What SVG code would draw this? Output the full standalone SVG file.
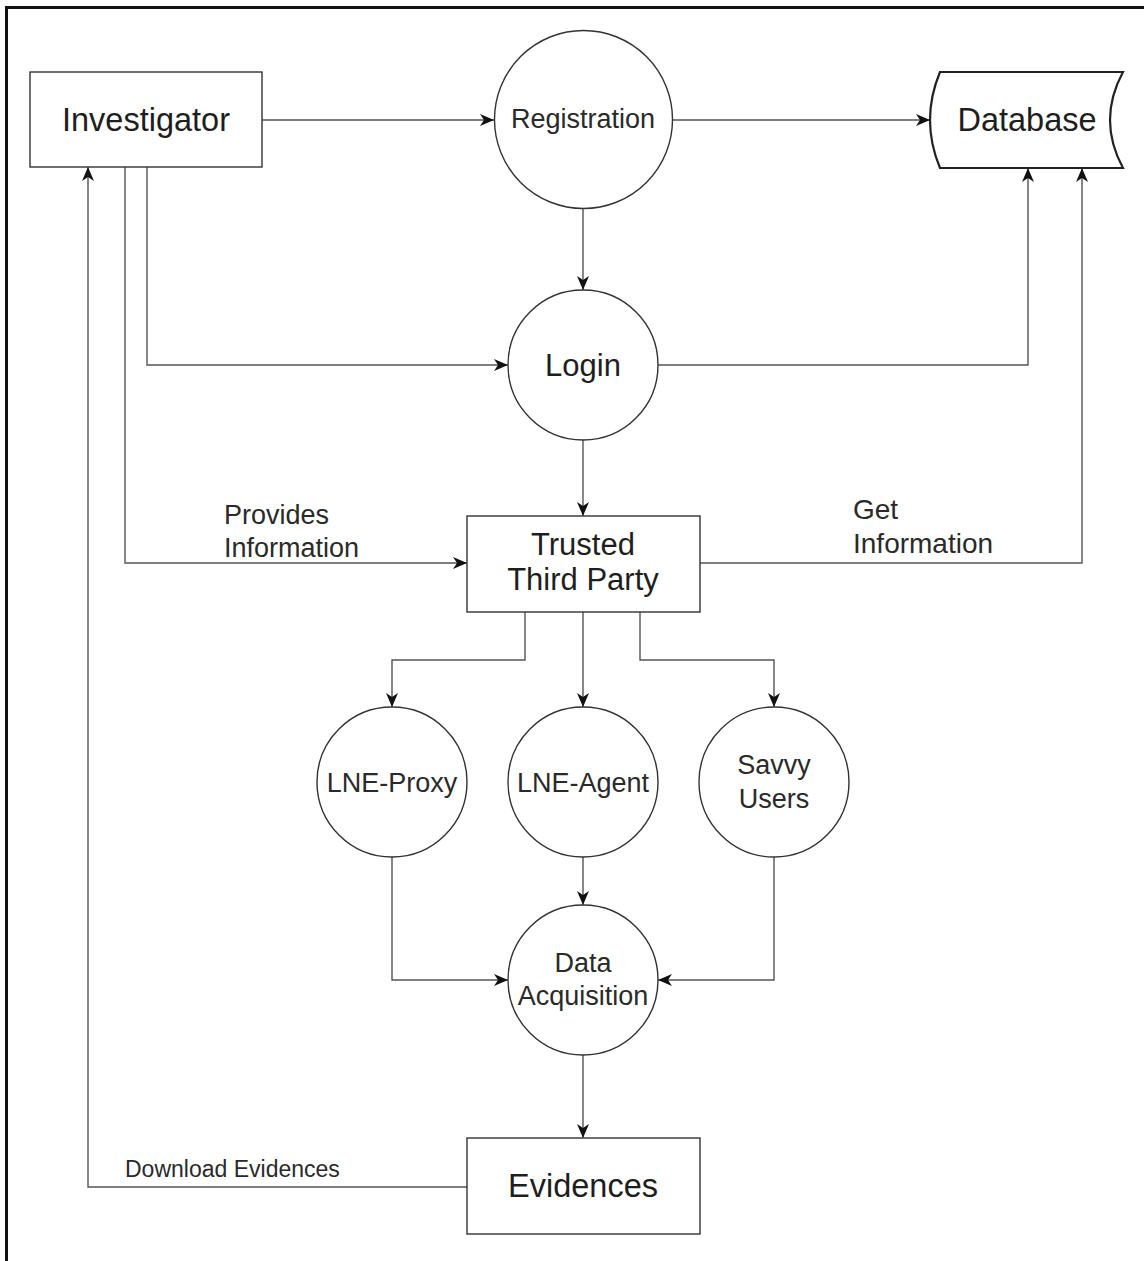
<svg xmlns="http://www.w3.org/2000/svg" width="1144" height="1261" viewBox="0 0 1144 1261">
<style>
.node{fill:#fff;stroke:#333;stroke-width:1.4}
.db{fill:#fff;stroke:#222;stroke-width:2.2}
.lg{font-family:"Liberation Sans",Arial,sans-serif;font-size:31px;fill:#1e1e1e;text-anchor:middle}
.xl{font-family:"Liberation Sans",Arial,sans-serif;font-size:32.5px;fill:#1e1e1e;text-anchor:middle}
.md{font-family:"Liberation Sans",Arial,sans-serif;font-size:27px;fill:#2a2a2a;text-anchor:middle}
.lbl{font-family:"Liberation Sans",Arial,sans-serif;font-size:27px;fill:#2a2a2a}
.sm{font-family:"Liberation Sans",Arial,sans-serif;font-size:23px;fill:#2a2a2a}
.edge{fill:none;stroke:#555;stroke-width:1.4}
</style>
<defs>
<marker id="arr" markerUnits="userSpaceOnUse" markerWidth="16" markerHeight="14" refX="14" refY="7" orient="auto">
<path d="M0,1 L14,7 L0,13 L4,7 Z" fill="#111"/>
</marker>
</defs>
<rect width="1144" height="1261" fill="#fff"/>
<path d="M6.5,1261 V7.5 H1144" fill="none" stroke="#111" stroke-width="3"/>
<g id="connectors">
<path class="edge" d="M262,120 H494" marker-end="url(#arr)"/>
<path class="edge" d="M673,120 H930" marker-end="url(#arr)"/>
<path class="edge" d="M583,208 V290" marker-end="url(#arr)"/>
<path class="edge" d="M147,167 V365 H508" marker-end="url(#arr)"/>
<path class="edge" d="M125,167 V563 H467" marker-end="url(#arr)"/>
<path class="edge" d="M658,365 H1028 V168" marker-end="url(#arr)"/>
<path class="edge" d="M700,563 H1082 V168" marker-end="url(#arr)"/>
<path class="edge" d="M583,440 V516" marker-end="url(#arr)"/>
<path class="edge" d="M525,612 V660 H392 V707" marker-end="url(#arr)"/>
<path class="edge" d="M583,612 V707" marker-end="url(#arr)"/>
<path class="edge" d="M640,612 V660 H774 V707" marker-end="url(#arr)"/>
<path class="edge" d="M392,857 V980 H508" marker-end="url(#arr)"/>
<path class="edge" d="M583,857 V905" marker-end="url(#arr)"/>
<path class="edge" d="M774,857 V980 H658" marker-end="url(#arr)"/>
<path class="edge" d="M583,1055 V1138" marker-end="url(#arr)"/>
<path class="edge" d="M467,1187 H88 V167" marker-end="url(#arr)"/>
<text class="lbl" x="224" y="524">Provides</text>
<text class="lbl" x="224" y="557">Information</text>
<text class="lbl" x="853" y="519" style="font-size:28px">Get</text>
<text class="lbl" x="853" y="553" style="font-size:28px">Information</text>
<text class="sm" x="125" y="1177">Download Evidences</text>
</g>
<g id="investigator">
<rect class="node" x="30" y="72" width="232" height="95"/>
<text class="xl" x="146" y="131">Investigator</text>
</g>
<g id="registration">
<circle class="node" cx="583.5" cy="119.5" r="89"/>
<text class="md" x="583" y="128">Registration</text>
</g>
<g id="database">
<path class="db" d="M940,72 H1123 Q1097,120 1123,168 H940 Q920,120 940,72 Z"/>
<text class="xl" x="1027" y="131">Database</text>
</g>
<g id="login">
<circle class="node" cx="583" cy="365" r="75"/>
<text class="lg" x="583" y="376">Login</text>
</g>
<g id="trusted-third-party">
<rect class="node" x="467" y="516" width="233" height="96"/>
<text class="lg" x="583" y="555">Trusted</text>
<text class="lg" x="583" y="590">Third Party</text>
</g>
<g id="lne-proxy">
<circle class="node" cx="392" cy="782" r="75"/>
<text class="md" x="392" y="792">LNE-Proxy</text>
</g>
<g id="lne-agent">
<circle class="node" cx="583" cy="782" r="75"/>
<text class="md" x="583" y="792">LNE-Agent</text>
</g>
<g id="savvy-users">
<circle class="node" cx="774" cy="782" r="75"/>
<text class="md" x="774" y="774">Savvy</text>
<text class="md" x="774" y="808">Users</text>
</g>
<g id="data-acquisition">
<circle class="node" cx="583" cy="980" r="75"/>
<text class="md" x="583" y="972">Data</text>
<text class="md" x="583" y="1005">Acquisition</text>
</g>
<g id="evidences">
<rect class="node" x="467" y="1138" width="233" height="96"/>
<text class="xl" x="583" y="1197">Evidences</text>
</g>
</svg>
